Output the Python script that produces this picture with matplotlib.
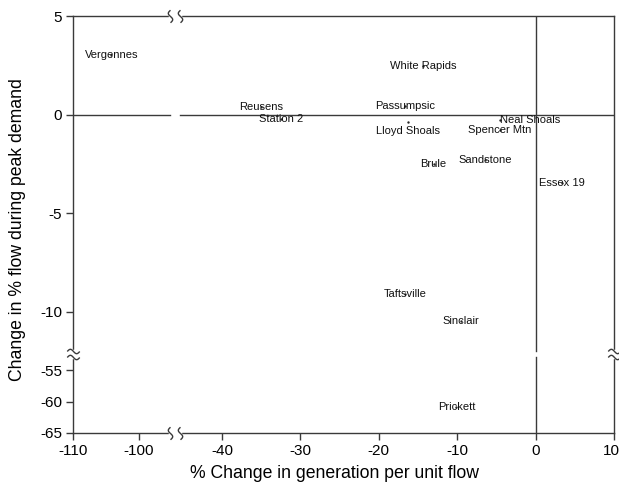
import numpy as np
import matplotlib
matplotlib.use("Agg")
import matplotlib.pyplot as plt
from matplotlib.path import Path
from matplotlib.transforms import ScaledTranslation

plt.rcParams["font.family"] = ["Liberation Sans", "DejaVu Sans"]

# Per-site results
sites = ["Vergennes", "White Rapids", "Reusens", "Station 2", "Passumpsic",
         "Lloyd Shoals", "Neal Shoals", "Spencer Mtn", "Brule", "Sandstone",
         "Essex 19", "Taftsville", "Sinclair", "Prickett"]
gen_change = [-104.2, -14.3, -35.0, -32.5, -16.6, -16.3, -4.6, -4.6,
              -13.0, -6.4, 3.4, -16.6, -9.55, -10.1]
flow_change = [3.0, 2.44, 0.36, -0.25, 0.41, -0.36, -0.3, -0.8,
               -2.49, -2.33, -3.45, -9.09, -10.5, -60.9]

x_ticks = [-110, -100, -40, -30, -20, -10, 0, 10]
y_ticks = [5, 0, -5, -10, -55, -60, -65]

# broken axes: data knots -> screen units (pixels)
X_KNOTS = ([-110, -95.3, -45.35, 10], [0, 97, 107, 541])
Y_KNOTS = ([-65, -52.9, -12, 5], [0, 76, 82, 417])

# label nudges in pixels, everything else is centred on its point
label_offsets = {"Lloyd Shoals": (0, -9)}
label_align = {"Neal Shoals": "left"}

LINE = "#3a3a3a"


def _piecewise(knots):
    d, p = knots
    return (lambda v: np.interp(v, d, p), lambda v: np.interp(v, p, d))


def _squiggle(vertical=True):
    t = np.linspace(-1, 1, 25)
    a = -0.35 * np.sin(np.pi * t)
    verts = np.column_stack([a, t]) if vertical else np.column_stack([t, a])
    return Path(verts)


fig = plt.figure(figsize=(6.19, 4.88), dpi=100)
ax = fig.add_axes([73 / 619, 55 / 488, 541 / 619, 417 / 488])
ax.set_xscale("function", functions=_piecewise(X_KNOTS))
ax.set_yscale("function", functions=_piecewise(Y_KNOTS))
ax.set_xlim(-110, 10)
ax.set_ylim(-65, 5)

# reference lines through zero, interrupted at the breaks
xb0, xb1 = X_KNOTS[0][1], X_KNOTS[0][2]
yb0, yb1 = Y_KNOTS[0][1], Y_KNOTS[0][2]
ax.plot([-110, xb0], [0, 0], color=LINE, lw=1)
ax.plot([xb1, 10], [0, 0], color=LINE, lw=1)
ax.plot([0, 0], [yb1, 5], color=LINE, lw=1)
ax.plot([0, 0], [-65, yb0], color=LINE, lw=1)

ax.plot(gen_change, flow_change, "o", ms=0.7, color="#222222", zorder=3)
for name, x, y in zip(sites, gen_change, flow_change):
    ax.annotate(name, (x, y), xytext=label_offsets.get(name, (0, 0)),
                textcoords="offset pixels", ha=label_align.get(name, "center"),
                va="center", fontsize=8, color="#111111", zorder=4)

for side in ax.spines.values():
    side.set_color(LINE)
    side.set_linewidth(1)

# gaps + break marks on the frame
for y in (5, -65):
    ax.plot([xb0, xb1], [y, y], color="white", lw=2.5, clip_on=False, zorder=5)
    ax.plot([xb0, xb1], [y, y], ls="none", marker=_squiggle(True), ms=9,
            mfc="none", mec=LINE, mew=1, clip_on=False, zorder=6)
for x in (-110, 10):
    ax.plot([x, x], [yb0, yb1], color="white", lw=2.5, clip_on=False, zorder=5)
    ax.plot([x, x], [yb0, yb1], ls="none", marker=_squiggle(False), ms=9,
            mfc="none", mec=LINE, mew=1, clip_on=False, zorder=6)

ax.set_xticks(x_ticks)
ax.set_yticks(y_ticks)
ax.set_xticklabels([str(v) for v in x_ticks])
ax.set_yticklabels([str(v) for v in y_ticks])
ax.tick_params(direction="out", length=5, width=1, color=LINE,
               labelsize=11, pad=3)
ax.minorticks_off()

# keep the last x tick label inside the figure edge
last = ax.get_xticklabels()[-1]
last.set_ha("right")
last.set_transform(last.get_transform()
                   + ScaledTranslation(6 / 100, 0, fig.dpi_scale_trans))

ax.set_xlabel("% Change in generation per unit flow", fontsize=12.7)
ax.set_ylabel("Change in % flow during peak demand", fontsize=12.7)
ax.xaxis.set_label_coords(0.484, -0.076)
ax.yaxis.set_label_coords(-0.087, 0.489)

fig.savefig("out.png", dpi=100)
